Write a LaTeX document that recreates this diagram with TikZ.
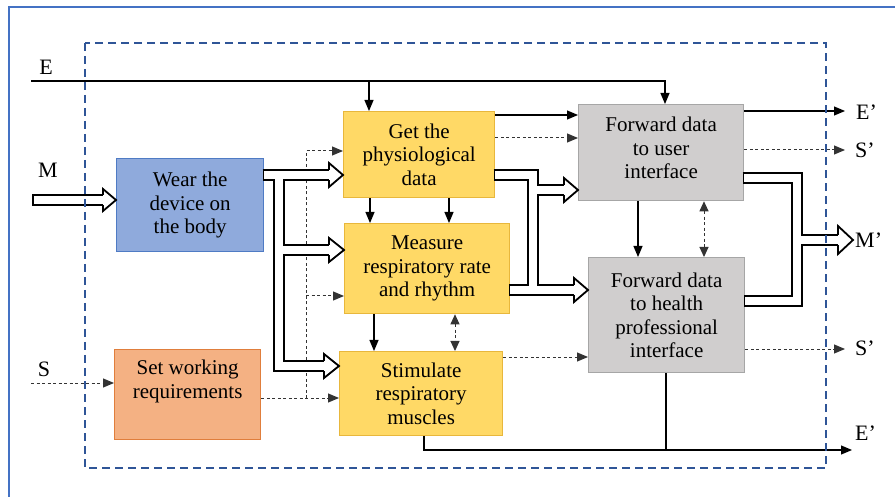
\documentclass[tikz,border=0pt]{standalone}
\usepackage{fontspec}
\setmainfont{Liberation Serif}
\newfontfamily\boxserif{Liberation Serif}
\usetikzlibrary{arrows.meta,calc}

\definecolor{wearfill}{HTML}{8FAADC}
\definecolor{wearline}{HTML}{4F7BC4}
\definecolor{setfill}{HTML}{F4B183}
\definecolor{setline}{HTML}{E07E3C}
\definecolor{yelfill}{HTML}{FFD966}
\definecolor{yelline}{HTML}{E8B73C}
\definecolor{grayfill}{HTML}{D0CECE}
\definecolor{grayline}{HTML}{A6A6A6}
\definecolor{framecol}{HTML}{4472C4}
\definecolor{bounds}{HTML}{2F5597}
\definecolor{dashink}{HTML}{333333}

% hollow arrow head pointing right: tip, length, half height
\newcommand\hollowhead[3]{%
  \draw[line width=1.8pt, fill=white, line join=miter]
    ($(#1)+(-#2,-5.1)$) -- ($(#1)+(-#2,-#3)$) -- (#1)
    -- ($(#1)+(-#2,#3)$) -- ($(#1)+(-#2,5.1)$);}

\begin{document}
\begin{tikzpicture}[x=1pt,y=-1pt,
  box/.style={draw, line width=1.3pt, inner sep=0pt, align=center,
    anchor=north west, font=\boxserif\fontsize{21}{23.5}\selectfont},
  lbl/.style={inner sep=0pt, font=\boxserif\fontsize{22}{24}\selectfont},
  conn/.style={line width=1.1pt, -{Triangle[length=11pt,width=9pt]}},
  dline/.style={line width=1pt, dashink, dash pattern=on 3pt off 2.5pt},
  dconn/.style={dline, -{Triangle[length=11pt,width=9pt]}},
  ddconn/.style={dline, {Triangle[length=10pt,width=9pt]}-{Triangle[length=10pt,width=9pt]}},
  chanout/.style={line width=12pt, black, line join=miter,
    shorten <=-1.6pt, shorten >=-1.6pt},
  chanin/.style={line width=8.4pt, white, line join=miter}]
\useasboundingbox (0,0) rectangle (895,497);

% outer frame
\draw[framecol, line width=2pt] (895,7) -- (9,7) -- (9,497);

% process boxes
\node[box, fill=wearfill, draw=wearline, minimum width=147pt, minimum height=93pt]
  (wear) at (116,158) {Wear the\\device on\\the body};
\node[box, fill=setfill, draw=setline, minimum width=146pt, minimum height=90pt]
  (swr) at (114,349) {Set working\\requirements\\\strut};
\node[box, fill=yelfill, draw=yelline, minimum width=151pt, minimum height=86pt]
  (gpd) at (343,111) {Get the\\physiological\\data};
\node[box, fill=yelfill, draw=yelline, minimum width=165pt, minimum height=90pt]
  (mrr) at (344,223) {Measure\\respiratory rate\\and rhythm};
\node[box, fill=yelfill, draw=yelline, minimum width=163pt, minimum height=84pt]
  (srm) at (339,351) {Stimulate\\respiratory\\muscles};
\node[box, fill=grayfill, draw=grayline, minimum width=165pt, minimum height=96pt]
  (fui) at (578,104) {Forward data\\to user\\interface\\[-14.5pt]\mbox{}};
\node[box, fill=grayfill, draw=grayline, minimum width=156pt, minimum height=115pt]
  (fhi) at (588,257) {Forward data\\to health\\professional\\interface};

% input and output labels
\node[lbl] (lE) at (46,67) {E};
\node[lbl] (lM) at (48,170) {M};
\node[lbl] (lS) at (44,369) {S};
\node[lbl, anchor=west] (oE1) at (856,112) {E’};
\node[lbl, anchor=west] (oS1) at (855,150) {S’};
\node[lbl, anchor=west] (oM) at (855,240) {M’};
\node[lbl, anchor=west] (oS2) at (855,348) {S’};
\node[lbl, anchor=west] (oE2) at (855,433) {E’};

\coordinate (eIn) at (31,81);
\coordinate (sIn) at (31,383);
\coordinate (mIn) at (34,200);
\coordinate (eOut1) at (845,111);
\coordinate (sOut1) at (845,150);
\coordinate (sOut2) at (845,349);
\coordinate (eOut2) at (852,450);

% energy lines
\draw[conn] (eIn) -- (665,81) -- (fui.north -| 665,0);
\draw[conn] (369,81) -- (gpd.north -| 369,0);

% signal lines (dashed)
\draw[dconn] (sIn) -- (swr.west |- 0,383);
\draw[dconn] (swr.east |- 0,398) -- (srm.west |- 0,398);
\draw[dconn] (306,398) -- (306,151) -- (gpd.west |- 0,151);
\draw[dconn] (306,296) -- (mrr.west |- 0,296);
\draw[dconn] (gpd.east |- 0,138) -- (fui.west |- 0,138);
\draw[dconn] (srm.east |- 0,357) -- (fhi.west |- 0,357);
\draw[ddconn] (mrr.south -| 455,0) -- (srm.north -| 455,0);
\draw[ddconn] (fui.south -| 704,0) -- (fhi.north -| 704,0);
\draw[dconn] (fui.east |- 0,150) -- (sOut1);
\draw[dconn] (fhi.east |- 0,349) -- (sOut2);

% solid links between the steps
\draw[conn] (gpd.east |- 0,115) -- (fui.west |- 0,115);
\draw[conn] (gpd.south -| 370,0) -- (mrr.north -| 370,0);
\draw[conn] (gpd.south -| 449,0) -- (mrr.north -| 449,0);
\draw[conn] (mrr.south -| 374,0) -- (srm.north -| 374,0);
\draw[conn] (fui.south -| 638,0) -- (fhi.north -| 638,0);
\draw[conn] (fui.east |- 0,111) -- (eOut1);
\draw[conn] (srm.south -| 424,0) -- (424,450) -- (eOut2);
\draw[line width=1.1pt] (fhi.south -| 666,0) -- (666,450);

% hollow material-flow channels
\coordinate (tM) at (wear.west |- 0,200);
\coordinate (tG) at (gpd.west |- 0,175);
\coordinate (tR) at (mrr.west |- 0,250);
\coordinate (tS) at (srm.west |- 0,366);
\coordinate (tU) at (fui.west |- 0,190);
\coordinate (tH) at (fhi.west |- 0,290);
\coordinate (tO) at (853,240);
\foreach \lay in {chanout,chanin}{
  \draw[\lay] (mIn) -- ($(tM)+(-13,0)$);
  \draw[\lay] (wear.east |- 0,175) -- ($(tG)+(-14,0)$);
  \draw[\lay] (279,175) -- (279,366) -- ($(tS)+(-15,0)$);
  \draw[\lay] (279,250) -- ($(tR)+(-15,0)$);
  \draw[\lay] (gpd.east |- 0,175) -- (533,175) -- (533,290) -- (mrr.east |- 0,290);
  \draw[\lay] (533,190) -- ($(tU)+(-14,0)$);
  \draw[\lay] (533,290) -- ($(tH)+(-14,0)$);
  \draw[\lay] (fui.east |- 0,178) -- (797,178) -- (797,301) -- (fhi.east |- 0,301);
  \draw[\lay] (797,240) -- ($(tO)+(-15,0)$);
}
\hollowhead{tM}{13}{11}
\hollowhead{tG}{14}{12}
\hollowhead{tR}{15}{12}
\hollowhead{tS}{15}{12}
\hollowhead{tU}{14}{12}
\hollowhead{tH}{14}{12}
\hollowhead{tO}{15}{14}

% system boundary
\draw[bounds, line width=1.8pt, dash pattern=on 8pt off 5pt] (85,43) rectangle (826,468);
\end{tikzpicture}
\end{document}
